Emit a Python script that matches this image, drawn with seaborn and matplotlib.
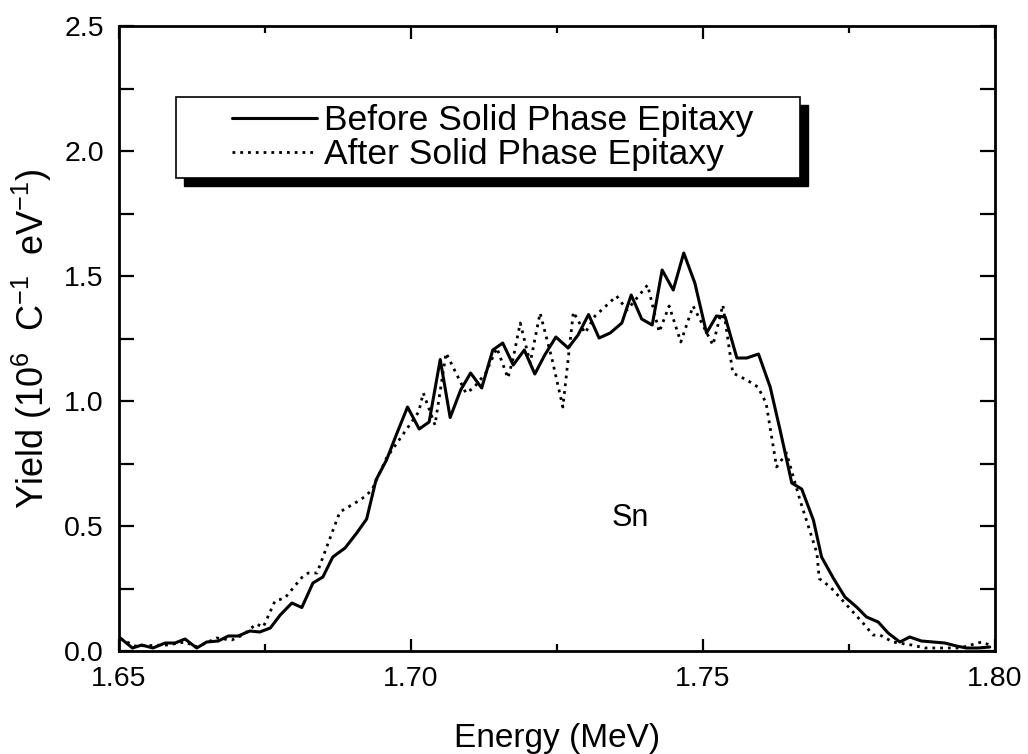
import numpy as np
import pandas as pd
import matplotlib
matplotlib.use("Agg")
import matplotlib.pyplot as plt
from matplotlib.patches import Rectangle
from matplotlib.ticker import MultipleLocator, FormatStrFormatter
import seaborn as sns

# ---------------- data ----------------
before_energy = [1.6502, 1.6523, 1.6539, 1.6558, 1.6579, 1.6596, 1.6613, 1.6633, 1.6650, 1.6670,
                 1.6687, 1.6704, 1.6724, 1.6741, 1.6759, 1.6776, 1.6796, 1.6813, 1.6832, 1.6849,
                 1.6866, 1.6887, 1.6907, 1.6924, 1.6940, 1.6958, 1.6976, 1.6994, 1.7014, 1.7031,
                 1.7050, 1.7067, 1.7085, 1.7102, 1.7121, 1.7140, 1.7157, 1.7175, 1.7194, 1.7212,
                 1.7229, 1.7248, 1.7269, 1.7286, 1.7304, 1.7322, 1.7341, 1.7361, 1.7377, 1.7395,
                 1.7413, 1.7430, 1.7449, 1.7467, 1.7486, 1.7506, 1.7523, 1.7538, 1.7558, 1.7575,
                 1.7595, 1.7615, 1.7632, 1.7652, 1.7669, 1.7689, 1.7703, 1.7723, 1.7743, 1.7763,
                 1.7780, 1.7800, 1.7817, 1.7837, 1.7854, 1.7874, 1.7894, 1.7914, 1.7934, 1.7951,
                 1.7971, 1.7991]
before_yield = [0.052, 0.012, 0.024, 0.012, 0.032, 0.032, 0.048, 0.012, 0.036, 0.040,
                0.060, 0.060, 0.080, 0.076, 0.092, 0.144, 0.192, 0.174, 0.272, 0.296,
                0.376, 0.412, 0.472, 0.528, 0.684, 0.764, 0.872, 0.976, 0.888, 0.916,
                1.166, 0.934, 1.044, 1.112, 1.052, 1.204, 1.232, 1.144, 1.204, 1.108,
                1.184, 1.256, 1.212, 1.264, 1.346, 1.252, 1.272, 1.312, 1.424, 1.328,
                1.304, 1.524, 1.444, 1.592, 1.472, 1.272, 1.340, 1.336, 1.172, 1.172,
                1.188, 1.056, 0.884, 0.672, 0.648, 0.524, 0.376, 0.292, 0.216, 0.176,
                0.136, 0.116, 0.072, 0.036, 0.056, 0.040, 0.036, 0.032, 0.020, 0.012,
                0.012, 0.016]

after_energy = [1.6502, 1.6527, 1.6582, 1.6613, 1.6634, 1.6667, 1.6693, 1.6712, 1.6735, 1.6747,
                1.6767, 1.6784, 1.6813, 1.6824, 1.6839, 1.6878, 1.6907, 1.6920, 1.6933, 1.6958,
                1.7013, 1.7021, 1.7041, 1.7060, 1.7094, 1.7107, 1.7128, 1.7147, 1.7166, 1.7175,
                1.7187, 1.7204, 1.7221, 1.7241, 1.7260, 1.7278, 1.7298, 1.7315, 1.7330, 1.7352,
                1.7370, 1.7405, 1.7425, 1.7442, 1.7462, 1.7483, 1.7517, 1.7534, 1.7551, 1.7575,
                1.7594, 1.7608, 1.7626, 1.7643, 1.7666, 1.7695, 1.7699, 1.7718, 1.7746, 1.7777,
                1.7791, 1.7803, 1.7825, 1.7857, 1.7880, 1.7940, 1.7977, 1.7991]
after_yield = [0.050, 0.020, 0.024, 0.036, 0.016, 0.052, 0.044, 0.064, 0.108, 0.096,
               0.200, 0.212, 0.294, 0.312, 0.312, 0.556, 0.596, 0.616, 0.644, 0.772,
               0.956, 1.032, 0.904, 1.192, 1.032, 1.052, 1.112, 1.212, 1.092, 1.172,
               1.312, 1.152, 1.352, 1.172, 0.976, 1.356, 1.272, 1.340, 1.372, 1.420,
               1.364, 1.464, 1.276, 1.380, 1.236, 1.380, 1.224, 1.384, 1.112, 1.084,
               1.056, 0.992, 0.736, 0.792, 0.604, 0.392, 0.290, 0.256, 0.184, 0.104,
               0.064, 0.064, 0.036, 0.024, 0.012, 0.012, 0.036, 0.024]

series_labels = ["Before Solid Phase Epitaxy", "After Solid Phase Epitaxy"]
x_ticks = [1.65, 1.70, 1.75, 1.80]
y_ticks = [0.0, 0.5, 1.0, 1.5, 2.0, 2.5]
x_label = "Energy (MeV)"
y_label = r"Yield (10$^6$  C$^{-1}$  eV$^{-1}$)"
annotation = "Sn"

# ---------------- style ----------------
sns.set_theme(style="ticks")
plt.rcParams["font.family"] = ["Liberation Sans", "DejaVu Sans"]
plt.rcParams["mathtext.fontset"] = "custom"
plt.rcParams["mathtext.rm"] = "Liberation Sans"
plt.rcParams["mathtext.it"] = "Liberation Sans:italic"
plt.rcParams["mathtext.bf"] = "Liberation Sans:bold"

fig = plt.figure(figsize=(10.28, 7.54), dpi=100)
ax = fig.add_axes([0.1158, 0.1366, 0.8521, 0.8289])

df_before = pd.DataFrame({"energy": before_energy, "yield": before_yield})
df_after = pd.DataFrame({"energy": after_energy, "yield": after_yield})

sns.lineplot(data=df_before, x="energy", y="yield", ax=ax, color="black",
             linewidth=2.2, estimator=None, sort=False, label=series_labels[0])
sns.lineplot(data=df_after, x="energy", y="yield", ax=ax, color="black",
             linewidth=2.0, estimator=None, sort=False, label=series_labels[1],
             linestyle=(0, (1, 1.8)))

ax.set_xlim(x_ticks[0], x_ticks[-1])
ax.set_ylim(y_ticks[0], y_ticks[-1])
ax.xaxis.set_major_locator(MultipleLocator(0.05))
ax.xaxis.set_minor_locator(MultipleLocator(0.025))
ax.yaxis.set_major_locator(MultipleLocator(0.5))
ax.yaxis.set_minor_locator(MultipleLocator(0.25))
ax.xaxis.set_major_formatter(FormatStrFormatter("%.2f"))
ax.yaxis.set_major_formatter(FormatStrFormatter("%.1f"))

ax.tick_params(axis="both", which="both", direction="in", top=True, right=True,
               color="black", width=1.6, labelsize=20.5, labelcolor="black")
ax.tick_params(axis="x", which="major", length=9, pad=11)
ax.tick_params(axis="x", which="minor", length=5)
ax.tick_params(axis="y", which="major", length=10.5, pad=11)
ax.tick_params(axis="y", which="minor", length=10.5)

for s in ax.spines.values():
    s.set_visible(True)
    s.set_color("black")
    s.set_linewidth(2.0)

ax.set_xlabel(x_label, fontsize=24, color="black", labelpad=22)
ax.set_ylabel(y_label, fontsize=26, color="black", labelpad=7)

ax.text(1.7375, 0.532, annotation, fontsize=22, ha="center", va="center", color="black")

# legend box with a solid black shadow
bx0, by0, bw, bh = 0.065, 0.757, 0.712, 0.129
ax.add_patch(Rectangle((bx0 + 0.0092, by0 - 0.0128), bw, bh, transform=ax.transAxes,
                       facecolor="black", edgecolor="black", zorder=5))
ax.add_patch(Rectangle((bx0, by0), bw, bh, transform=ax.transAxes,
                       facecolor="white", edgecolor="black", linewidth=1.2, zorder=6))
leg = ax.legend(loc="center left", bbox_to_anchor=(bx0 + 0.064, by0 + bh / 2),
                frameon=False, fontsize=25.5, handlelength=2.4, handletextpad=0.2,
                labelspacing=0.02, borderpad=0, borderaxespad=0)
leg.set_zorder(7)
for t in leg.get_texts():
    t.set_color("black")

fig.savefig("out.png", dpi=100, facecolor="white")
